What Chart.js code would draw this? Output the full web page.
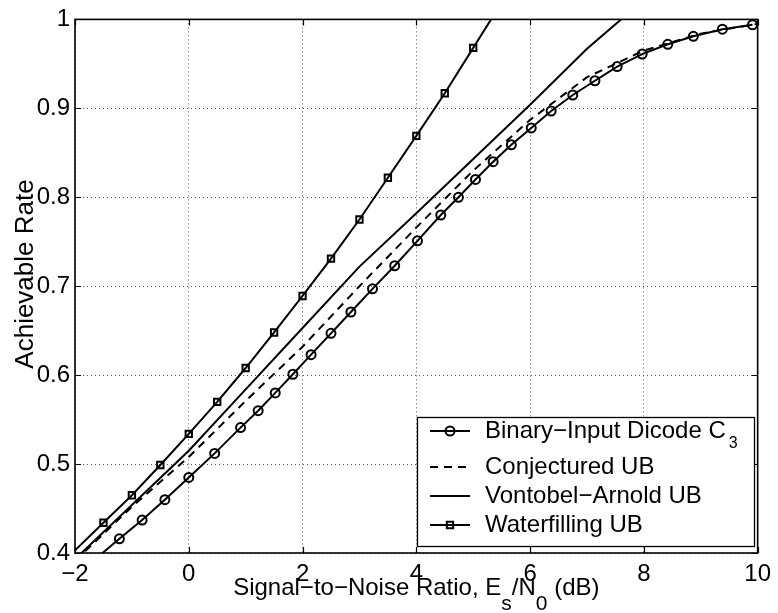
<!DOCTYPE html>
<html lang="en">
<head>
    <meta charset="UTF-8">
    <title>Achievable Rate vs SNR</title>
    <script src="https://cdn.jsdelivr.net/npm/chart.js"></script>
    <style>
        body { margin: 0; background: #fff; }
        #wrap { width: 778px; height: 613px; position: relative; }
    </style>
</head>
<body>
    <div id="wrap">
        <canvas id="rateChart" width="778" height="613"></canvas>
    </div>
    <script>
        // Binary-Input Dicode C3 (circles)
        var snrBinary = [-1.7, -1.22, -0.82, -0.42, 0.0, 0.455, 0.91, 1.22, 1.52, 1.83, 2.15, 2.5, 2.85,
                         3.23, 3.62, 4.02, 4.43, 4.74, 5.04, 5.35, 5.67, 6.02, 6.37, 6.75, 7.14, 7.53,
                         7.97, 8.42, 8.87, 9.38, 9.91];
        var rateBinary = [0.390, 0.416, 0.437, 0.460, 0.485, 0.512, 0.541, 0.560, 0.580, 0.601, 0.623, 0.647, 0.671,
                          0.697, 0.723, 0.751, 0.780, 0.800, 0.820, 0.840, 0.859, 0.878, 0.897, 0.915, 0.931, 0.947,
                          0.961, 0.972, 0.981, 0.989, 0.994];

        // Conjectured UB (dashed)
        var snrConj = [-2, -1, 0, 1, 2, 3, 4, 5, 6, 7, 8, 9, 10];
        var rateConj = [0.391, 0.452, 0.508, 0.571, 0.632, 0.700, 0.766, 0.830, 0.887, 0.935, 0.965, 0.984, 0.995];

        // Vontobel-Arnold UB (plain solid)
        var snrVA = [-2, -1, 0, 1, 2, 3, 4, 5, 6, 7, 8];
        var rateVA = [0.393, 0.454, 0.515, 0.584, 0.653, 0.722, 0.782, 0.843, 0.904, 0.967, 1.022];

        // Waterfilling UB (squares)
        var snrWater = [-2.5, -1.5, -1, -0.5, 0, 0.5, 1, 1.5, 2, 2.5, 3, 3.5, 4, 4.5, 5, 5.5];
        var rateWater = [0.372, 0.434, 0.465, 0.499, 0.534, 0.570, 0.608, 0.648, 0.689, 0.731, 0.775, 0.822,
                         0.869, 0.917, 0.968, 1.019];

        var xTicks = [-2, 0, 2, 4, 6, 8, 10];
        var yTicks = [0.4, 0.5, 0.6, 0.7, 0.8, 0.9, 1];
        var seriesNames = ['Binary\u2212Input Dicode C', 'Conjectured UB', 'Vontobel\u2212Arnold UB', 'Waterfilling UB'];

        var FONT = "'Liberation Sans', Arial, Helvetica, sans-serif";

        function pairs(xs, ys) {
            return xs.map(function (x, i) { return { x: x, y: ys[i] }; });
        }

        function minusSign(v) {
            return v < 0 ? '\u2212' + Math.abs(v) : String(v);
        }

        // draw the little marker used in plot and legend
        function drawMarker(ctx, style, cx, cy) {
            ctx.beginPath();
            if (style === 'circle') {
                ctx.arc(cx, cy, 4.5, 0, Math.PI * 2);
            } else if (style === 'rect') {
                ctx.rect(cx - 3.2, cy - 3.2, 6.4, 6.4);
            }
            ctx.stroke();
        }

        // box, inward ticks, axis titles with subscripts, legend
        var matlabLook = {
            id: 'matlabLook',
            afterDraw: function (chart) {
                var ctx = chart.ctx;
                var a = chart.chartArea;
                var xs = chart.scales.x, ys = chart.scales.y;
                ctx.save();

                ctx.strokeStyle = '#000';
                ctx.lineWidth = 1.6;
                ctx.setLineDash([]);
                ctx.strokeRect(a.left, a.top, a.right - a.left, a.bottom - a.top);

                ctx.lineWidth = 1.2;
                ctx.beginPath();
                xTicks.forEach(function (v) {
                    var px = Math.round(xs.getPixelForValue(v)) + 0.5;
                    ctx.moveTo(px, a.bottom); ctx.lineTo(px, a.bottom - 6);
                    ctx.moveTo(px, a.top); ctx.lineTo(px, a.top + 6);
                });
                yTicks.forEach(function (v) {
                    var py = Math.round(ys.getPixelForValue(v)) + 0.5;
                    ctx.moveTo(a.left, py); ctx.lineTo(a.left + 6, py);
                    ctx.moveTo(a.right, py); ctx.lineTo(a.right - 6, py);
                });
                ctx.stroke();

                // x title: Signal-to-Noise Ratio, E_s/N_0 (dB)
                ctx.fillStyle = '#000';
                ctx.textBaseline = 'alphabetic';
                ctx.textAlign = 'left';
                var parts = [
                    ['Signal\u2212to\u2212Noise Ratio, E', 0],
                    ['s', 1],
                    ['/N', 0],
                    ['0', 1],
                    [' (dB)', 0]
                ];
                function setPartFont(sub) { ctx.font = (sub ? '21px ' : '24px ') + FONT; }
                var total = 0;
                parts.forEach(function (p) { setPartFont(p[1]); total += ctx.measureText(p[0]).width; });
                var tx = (a.left + a.right) / 2 - total / 2;
                parts.forEach(function (p) {
                    setPartFont(p[1]);
                    ctx.fillText(p[0], tx, p[1] ? 610 : 595);
                    tx += ctx.measureText(p[0]).width;
                });

                // y title
                ctx.save();
                ctx.font = '26px ' + FONT;
                ctx.textAlign = 'center';
                ctx.translate(33, 274);
                ctx.rotate(-Math.PI / 2);
                ctx.fillText('Achievable Rate', 0, 0);
                ctx.restore();

                // legend
                var lx = 417, ly = 417, lw = 337, lh = 129;
                ctx.fillStyle = '#fff';
                ctx.fillRect(lx, ly, lw, lh);
                ctx.strokeStyle = '#000';
                ctx.lineWidth = 1.3;
                ctx.strokeRect(lx + 0.5, ly + 0.5, lw, lh);

                var baselines = [438, 474, 503, 532];
                chart.data.datasets.forEach(function (ds, i) {
                    var sy = baselines[i] - 7;
                    ctx.strokeStyle = '#000';
                    ctx.lineWidth = 2;
                    ctx.setLineDash(ds.borderDash || []);
                    ctx.beginPath();
                    ctx.moveTo(430, sy);
                    ctx.lineTo(470, sy);
                    ctx.stroke();
                    ctx.setLineDash([]);
                    if (ds.pointRadius > 0) drawMarker(ctx, ds.pointStyle, 450, sy);

                    ctx.fillStyle = '#000';
                    ctx.font = '24px ' + FONT;
                    ctx.textAlign = 'left';
                    ctx.fillText(seriesNames[i], 485, baselines[i]);
                    if (i === 0) {
                        var w = ctx.measureText(seriesNames[i]).width;
                        ctx.font = '16px ' + FONT;
                        ctx.fillText('3', 485 + w + 3, 448);
                    }
                });

                ctx.restore();
            }
        };

        var lineBase = {
            borderColor: '#000',
            backgroundColor: 'rgba(0,0,0,0)',
            borderWidth: 2,
            pointBorderColor: '#000',
            pointBackgroundColor: 'rgba(0,0,0,0)',
            pointBorderWidth: 2,
            tension: 0,
            fill: false,
            clip: 0
        };

        var ctxRate = document.getElementById('rateChart').getContext('2d');
        var rateChart = new Chart(ctxRate, {
            type: 'line',
            data: {
                datasets: [
                    Object.assign({}, lineBase, {
                        label: seriesNames[0] + '3',
                        data: pairs(snrBinary, rateBinary),
                        pointStyle: 'circle',
                        pointRadius: 4.5
                    }),
                    Object.assign({}, lineBase, {
                        label: seriesNames[1],
                        data: pairs(snrConj, rateConj),
                        borderDash: [8, 6],
                        pointRadius: 0
                    }),
                    Object.assign({}, lineBase, {
                        label: seriesNames[2],
                        data: pairs(snrVA, rateVA),
                        pointRadius: 0
                    }),
                    Object.assign({}, lineBase, {
                        label: seriesNames[3],
                        data: pairs(snrWater, rateWater),
                        pointStyle: 'rect',
                        pointRadius: 4.5
                    })
                ]
            },
            options: {
                responsive: false,
                animation: false,
                layout: { padding: { top: 12, right: 17, left: 0, bottom: 0 } },
                plugins: {
                    legend: { display: false },
                    tooltip: { enabled: false }
                },
                scales: {
                    x: {
                        type: 'linear',
                        min: -2,
                        max: 10,
                        afterBuildTicks: function (scale) {
                            scale.ticks = xTicks.map(function (v) { return { value: v }; });
                        },
                        afterFit: function (scale) { scale.height = 60; },
                        grid: { color: '#555', lineWidth: 1, drawTicks: false },
                        border: { display: false, dash: [1, 3] },
                        ticks: {
                            color: '#000',
                            font: { family: FONT, size: 24 },
                            padding: 7,
                            maxRotation: 0,
                            autoSkip: false,
                            callback: function (v) { return minusSign(v); }
                        }
                    },
                    y: {
                        type: 'linear',
                        min: 0.4,
                        max: 1,
                        afterBuildTicks: function (scale) {
                            scale.ticks = yTicks.map(function (v) { return { value: v }; });
                        },
                        afterFit: function (scale) { scale.width = 75; },
                        grid: { color: '#555', lineWidth: 1, drawTicks: false },
                        border: { display: false, dash: [1, 3] },
                        ticks: {
                            color: '#000',
                            font: { family: FONT, size: 24 },
                            padding: 5,
                            autoSkip: false,
                            callback: function (v) { return String(Math.round(v * 10) / 10); }
                        }
                    }
                }
            },
            plugins: [matlabLook]
        });
    </script>
</body>
</html>
